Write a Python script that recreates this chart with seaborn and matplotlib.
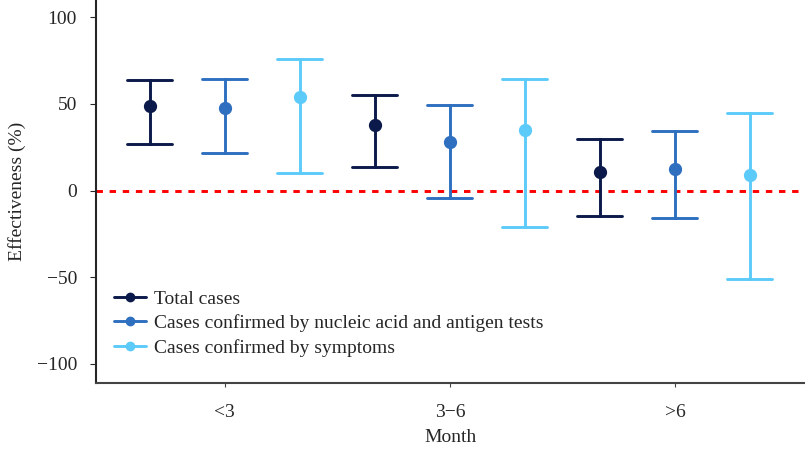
import numpy as np
import pandas as pd
import seaborn as sns
import matplotlib.pyplot as plt
from matplotlib.lines import Line2D

# data
months = ["<3", "3\u22126", ">6"]
series = ["Total cases",
          "Cases confirmed by nucleic acid and antigen tests",
          "Cases confirmed by symptoms"]
colors = ["#0b1a4a", "#2e6fc0", "#5ccbf9"]

est = {
    "Total cases": [49, 38, 10.5],
    "Cases confirmed by nucleic acid and antigen tests": [47.5, 28, 12.5],
    "Cases confirmed by symptoms": [54, 35, 9],
}
lower = {
    "Total cases": [27, 13.5, -14.5],
    "Cases confirmed by nucleic acid and antigen tests": [21.5, -4.5, -16],
    "Cases confirmed by symptoms": [10, -21, -51],
}
upper = {
    "Total cases": [64, 55, 29.5],
    "Cases confirmed by nucleic acid and antigen tests": [64.5, 49.5, 34.5],
    "Cases confirmed by symptoms": [76, 64.5, 45],
}

# long table: lower, estimate, upper per group -> median + min/max interval
rows = []
for s in series:
    for i, m in enumerate(months):
        for v in (lower[s][i], est[s][i], upper[s][i]):
            rows.append({"Month": m, "Series": s, "Value": v})
df = pd.DataFrame(rows)

sns.set_style("ticks")
plt.rcParams["font.family"] = ["Liberation Serif", "DejaVu Serif"]

fig = plt.figure(figsize=(8.05, 4.5), dpi=100)
ax = fig.add_axes([0.119, 0.149, 0.881, 0.851])

sns.pointplot(data=df, x="Month", y="Value", hue="Series",
              order=months, hue_order=series, palette=colors,
              estimator=np.median, errorbar=lambda v: (v.min(), v.max()),
              dodge=0.667, linestyle="none", capsize=0.2,
              markersize=7.5, err_kws={"linewidth": 2.1}, legend=False, ax=ax)

ax.axhline(0, color="red", linestyle=(0, (2.2, 2.3)), linewidth=2.1, zorder=0)

ax.set_ylim(-111, 110)
ax.set_xlim(-0.573, 2.578)
ax.set_yticks([-100, -50, 0, 50, 100])
ax.set_yticklabels(["\u2212100", "\u221250", "0", "50", "100"])
ax.set_xlabel("Month", fontsize=14, labelpad=6)
ax.set_ylabel("Effectiveness (%)", fontsize=14, labelpad=8)
ax.tick_params(labelsize=14)
ax.tick_params(axis="y", length=4.5, pad=9)
ax.tick_params(axis="x", length=3, pad=12, color="#444444")
sns.despine(ax=ax)
ax.spines["bottom"].set_color("#444444")
ax.spines["bottom"].set_linewidth(1.5)
ax.spines["left"].set_linewidth(1.5)

handles = [Line2D([], [], color=c, marker="o", markersize=6, linewidth=2.1)
           for c in colors]
ax.legend(handles, series, loc="upper left", bbox_to_anchor=(0.015, 0.262),
          frameon=False, fontsize=14, labelspacing=0.33,
          handlelength=1.65, handletextpad=0.4, borderaxespad=0)

fig.savefig("out.png", dpi=100)
